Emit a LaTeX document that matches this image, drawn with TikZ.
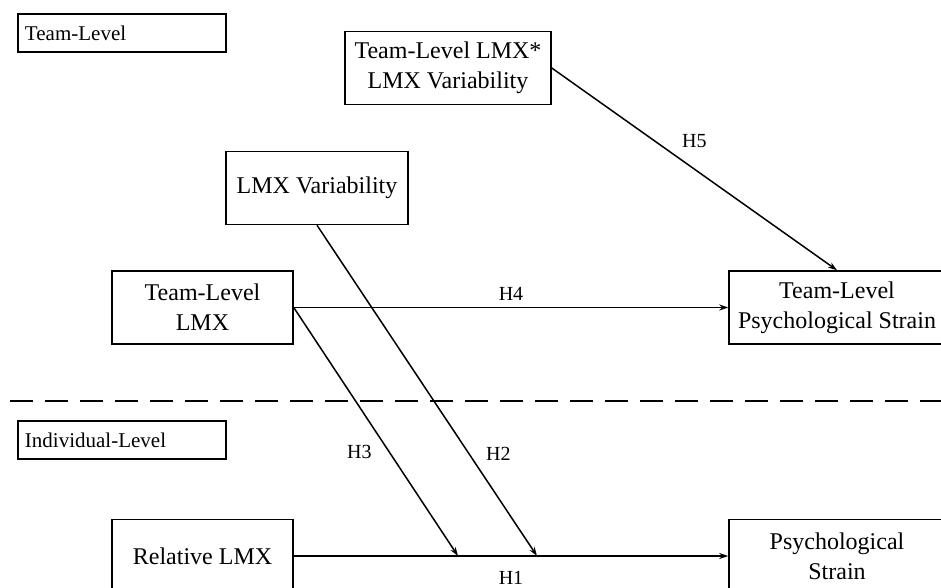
\documentclass[tikz,border=0pt]{standalone}
\usepackage{fontspec}
\setmainfont{Liberation Serif}
\usetikzlibrary{arrows.meta,positioning,calc}

\begin{document}
\begin{tikzpicture}[x=0.5pt,y=-0.5pt,
  n/.style={draw,line width=0.75pt,minimum width=90.5pt,minimum height=36.5pt,align=center,inner sep=2pt,font=\fontsize{12}{15}\selectfont},
  lvl/.style={draw,line width=0.75pt,minimum width=104pt,minimum height=19pt,text width=97pt,align=left,inner sep=3pt,font=\fontsize{10.5}{12}\selectfont},
  arr/.style={-{Stealth[length=4.5pt,width=3pt]},line width=0.75pt},
  hyp/.style={font=\fontsize{10}{12}\selectfont}]
\useasboundingbox (0,0) rectangle (941,588);
\node[lvl] (teamlvl) at (122,33) {Team-Level};
\node[n,minimum width=103pt] (inter) at (448,68) {Team-Level LMX*\\LMX Variability};
\node[n,minimum width=91pt] (lmxvar) at (317,188) {LMX Variability};
\node[n] (tlmx) at (202.5,307.5) {Team-Level\\LMX};
\node[n,minimum width=108pt] (tstrain) at (837,307.5) {Team-Level\\Psychological Strain};
\node[lvl] (indlvl) at (122,440) {Individual-Level};
\node[n] (rlmx) at (202.5,556) {Relative LMX};
\node[n,minimum width=108pt] (pstrain) at (837,556) {Psychological\\Strain};
\coordinate (divl) at (10,401);
\coordinate (divr) at (941,401);
\coordinate (h3end) at (458,556);
\coordinate (h2end) at (537,556);
\draw[line width=0.75pt,dash pattern=on 11.5pt off 6pt] (divl)--(divr);
\draw[arr] (inter.east)--node[hyp,midway,above=7pt]{H5}(tstrain.north);
\draw[arr] (tlmx.east)--node[hyp,midway,above]{H4}(tstrain.west);
\draw[arr] (tlmx.east)--node[hyp,pos=0.58,left=5pt]{H3}(h3end);
\draw[arr] (lmxvar.south)--node[hyp,pos=0.69,right=5pt]{H2}(h2end);
\draw[arr] (rlmx.east)--node[hyp,midway,below=4pt]{H1}(pstrain.west);
\end{tikzpicture}
\end{document}
